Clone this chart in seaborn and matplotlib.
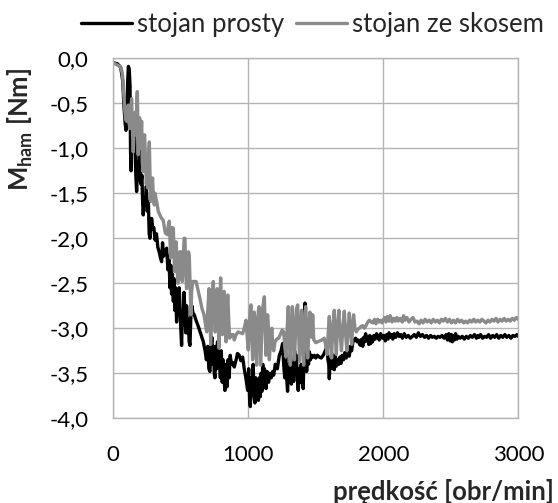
import numpy as np
import pandas as pd
import matplotlib
matplotlib.use("Agg")
import matplotlib.pyplot as plt
from matplotlib.ticker import FuncFormatter
from matplotlib.lines import Line2D
import seaborn as sns

# Braking torque vs. rotational speed: straight stator
rpm_prosty = [
    0, 30, 55, 70, 80, 88, 94, 100, 107, 112, 118, 124, 128, 132, 138, 145, 152, 160, 167, 173,
    180, 186, 192, 198, 205, 212, 218, 222, 230, 238, 245, 252, 260, 266, 272, 278, 285, 292, 300, 310,
    320, 330, 340, 350, 358, 365, 372, 395, 405, 412, 420, 426, 432, 438, 445, 450, 456, 462, 469, 475,
    481, 488, 494, 500, 506, 512, 518, 524, 531, 537, 543, 550, 556, 562, 568, 575, 582, 590, 600, 615,
    630, 645, 660, 667, 680, 690, 700, 708, 716, 722, 730, 736, 742, 748, 753, 760, 766, 772, 780, 786,
    793, 800, 807, 813, 820, 827, 835, 842, 850, 858, 866, 875, 885, 896, 910, 920, 933, 945, 958, 970,
    985, 995, 1003, 1010, 1015, 1022, 1030, 1036, 1042, 1049, 1055, 1062, 1068, 1075, 1082, 1089, 1095, 1101, 1107, 1113,
    1120, 1131, 1140, 1150, 1160, 1170, 1180, 1188, 1200, 1215, 1230, 1243, 1254, 1262, 1270, 1277, 1284, 1291, 1298, 1305,
    1312, 1319, 1326, 1336, 1343, 1350, 1356, 1363, 1370, 1377, 1385, 1392, 1400, 1407, 1413, 1420, 1426, 1432, 1440, 1446,
    1452, 1460, 1470, 1480, 1489, 1500, 1512, 1526, 1540, 1555, 1570, 1583, 1590, 1596, 1600, 1606, 1612, 1618, 1625, 1632,
    1637, 1645, 1652, 1660, 1670, 1678, 1687, 1695, 1705, 1715, 1725, 1735, 1748, 1756, 1765, 1775, 1785, 1795, 1805, 1815,
    1825, 1832, 1840, 1848, 1855, 1862, 1869, 1876, 1884, 1893, 1900, 1906, 1912, 1920, 1930, 1940, 1950, 1960, 1970, 1980,
    1993, 2005, 2015, 2025, 2035, 2042, 2050, 2060, 2070, 2080, 2092, 2105, 2118, 2130, 2142, 2155, 2170, 2185, 2200, 2215,
    2230, 2245, 2260, 2275, 2290, 2305, 2320, 2335, 2350, 2363, 2378, 2392, 2405, 2420, 2435, 2450, 2465, 2475, 2485, 2495,
    2505, 2511, 2518, 2526, 2535, 2545, 2555, 2570, 2585, 2600, 2615, 2630, 2645, 2660, 2675, 2690, 2700, 2709, 2720, 2735,
    2750, 2765, 2780, 2795, 2810, 2825, 2840, 2855, 2870, 2885, 2900, 2915, 2930, 2945, 2960, 2975, 2990, 3000,
]
m_prosty = [
    -0.05, -0.06, -0.10, -0.25, -0.55, -0.72, -0.80, -0.65, -0.25, -0.09, -0.12, -0.30, -1.05, -1.25, -0.75, -0.90, -0.68, -0.92, -1.30, -1.48,
    -1.20, -1.35, -0.95, -1.07, -1.40, -1.30, -1.62, -1.74, -1.55, -1.62, -1.42, -1.70, -1.60, -1.95, -2.00, -1.80, -1.78, -1.90, -1.88, -2.02,
    -1.95, -2.10, -2.15, -2.22, -2.26, -2.05, -2.20, -2.11, -2.35, -2.20, -2.55, -2.30, -2.62, -2.40, -2.70, -2.45, -2.80, -2.55, -2.93, -2.60,
    -2.85, -2.55, -2.75, -3.00, -3.19, -2.80, -2.95, -2.60, -2.85, -3.05, -2.75, -3.05, -2.90, -3.15, -3.19, -2.85, -2.75, -2.83, -2.85, -2.92,
    -2.98, -3.05, -3.12, -3.15, -3.25, -3.35, -3.20, -3.45, -3.48, -3.25, -3.10, -3.40, -3.20, -3.50, -3.55, -3.20, -3.45, -3.15, -3.40, -3.30,
    -3.55, -3.25, -3.60, -3.35, -3.55, -3.69, -3.40, -3.65, -3.35, -3.55, -3.30, -3.40, -3.38, -3.43, -3.35, -3.28, -3.30, -3.36, -3.32, -3.45,
    -3.58, -3.69, -3.45, -3.80, -3.87, -3.55, -3.62, -3.40, -3.75, -3.83, -3.55, -3.78, -3.60, -3.80, -3.55, -3.76, -3.50, -3.70, -3.40, -3.60,
    -3.45, -3.67, -3.48, -3.60, -3.50, -3.55, -3.48, -3.52, -3.40, -3.45, -3.30, -3.25, -3.17, -3.40, -3.55, -3.30, -3.55, -3.70, -3.40, -3.50,
    -3.30, -3.62, -3.40, -3.59, -3.25, -3.45, -3.30, -3.55, -3.69, -3.45, -3.60, -3.40, -3.60, -3.67, -3.20, -2.72, -3.20, -3.48, -3.30, -3.40,
    -3.26, -3.35, -3.30, -3.32, -3.30, -3.33, -3.30, -3.32, -3.33, -3.30, -3.25, -3.20, -3.35, -3.40, -3.56, -3.35, -3.40, -3.28, -3.45, -3.35,
    -3.46, -3.30, -3.42, -3.35, -3.40, -3.32, -3.39, -3.30, -3.35, -3.27, -3.33, -3.26, -3.31, -3.20, -3.25, -3.15, -3.13, -3.11, -3.15, -3.13,
    -3.18, -3.19, -3.12, -3.20, -3.10, -3.15, -3.06, -3.14, -3.10, -3.18, -3.08, -3.17, -3.10, -3.15, -3.08, -3.12, -3.06, -3.10, -3.13, -3.06,
    -3.11, -3.08, -3.14, -3.07, -3.12, -3.05, -3.10, -3.07, -3.12, -3.06, -3.10, -3.05, -3.09, -3.07, -3.11, -3.06, -3.10, -3.08, -3.11, -3.09,
    -3.07, -3.10, -3.05, -3.09, -3.07, -3.10, -3.08, -3.11, -3.08, -3.10, -3.09, -3.11, -3.09, -3.10, -3.08, -3.11, -3.07, -3.13, -3.06, -3.14,
    -3.07, -3.15, -3.08, -3.13, -3.06, -3.12, -3.09, -3.11, -3.09, -3.12, -3.09, -3.11, -3.08, -3.10, -3.07, -3.11, -3.08, -3.10, -3.07, -3.11,
    -3.09, -3.10, -3.07, -3.11, -3.08, -3.10, -3.07, -3.11, -3.08, -3.10, -3.07, -3.10, -3.08, -3.11, -3.08, -3.09, -3.07, -3.09,
]

# Braking torque vs. rotational speed: skewed stator
rpm_skos = [
    0, 25, 49, 60, 69, 78, 86, 92, 99, 105, 111, 117, 124, 130, 136, 142, 148, 155, 162, 168,
    174, 178, 182, 185, 190, 195, 200, 205, 210, 215, 220, 226, 232, 238, 245, 250, 254, 260, 267, 272,
    278, 284, 291, 297, 304, 310, 316, 325, 333, 345, 358, 370, 385, 400, 408, 415, 420, 425, 432, 438,
    445, 450, 455, 460, 466, 472, 478, 485, 492, 499, 505, 511, 518, 525, 531, 537, 543, 550, 557, 563,
    570, 575, 580, 587, 593, 603, 613, 628, 642, 657, 672, 682, 692, 700, 709, 716, 722, 728, 735, 741,
    748, 755, 760, 765, 770, 777, 783, 790, 795, 800, 808, 815, 821, 828, 835, 842, 848, 855, 862, 870,
    880, 889, 896, 910, 925, 940, 958, 970, 983, 992, 1000, 1008, 1014, 1020, 1026, 1032, 1038, 1044, 1050, 1056,
    1062, 1068, 1075, 1080, 1086, 1092, 1100, 1106, 1112, 1119, 1125, 1131, 1137, 1143, 1150, 1156, 1162, 1168, 1175, 1181,
    1188, 1198, 1210, 1225, 1240, 1251, 1262, 1270, 1279, 1288, 1296, 1302, 1311, 1318, 1326, 1333, 1342, 1350, 1357, 1366,
    1373, 1380, 1388, 1395, 1402, 1410, 1417, 1425, 1432, 1440, 1448, 1456, 1463, 1470, 1477, 1485, 1500, 1514, 1530, 1545,
    1563, 1575, 1585, 1592, 1600, 1608, 1617, 1625, 1637, 1645, 1652, 1660, 1671, 1680, 1690, 1700, 1711, 1720, 1730, 1740,
    1748, 1756, 1766, 1772, 1780, 1790, 1800, 1811, 1822, 1835, 1847, 1860, 1872, 1885, 1897, 1910, 1922, 1935, 1945, 1958,
    1968, 1980, 1990, 2000, 2010, 2020, 2030, 2042, 2052, 2065, 2078, 2090, 2100, 2110, 2125, 2140, 2150, 2162, 2175, 2190,
    2205, 2220, 2235, 2250, 2265, 2280, 2295, 2310, 2325, 2340, 2355, 2370, 2385, 2400, 2415, 2430, 2445, 2460, 2475, 2490,
    2505, 2520, 2535, 2550, 2565, 2580, 2595, 2610, 2625, 2640, 2655, 2670, 2685, 2700, 2715, 2730, 2745, 2760, 2775, 2790,
    2805, 2820, 2835, 2850, 2865, 2880, 2895, 2910, 2925, 2940, 2955, 2970, 2985, 3000,
]
m_skos = [
    -0.05, -0.07, -0.09, -0.12, -0.19, -0.40, -0.59, -0.68, -0.70, -0.62, -0.52, -0.72, -0.78, -0.55, -0.45, -0.80, -1.04, -0.75, -0.60, -0.85,
    -0.50, -0.37, -0.70, -1.07, -0.80, -0.66, -1.00, -0.93, -0.70, -1.15, -1.26, -0.95, -0.85, -1.10, -1.40, -1.25, -1.44, -1.15, -0.93, -1.30,
    -1.59, -1.45, -1.33, -1.55, -1.63, -1.50, -1.56, -1.62, -1.70, -1.74, -1.78, -1.80, -1.94, -1.96, -1.85, -1.81, -2.00, -2.22, -2.00, -1.88,
    -1.89, -2.20, -2.37, -2.10, -2.04, -2.30, -2.50, -2.30, -2.15, -2.15, -2.40, -2.48, -2.20, -2.00, -2.00, -2.40, -2.56, -2.30, -2.15, -2.19,
    -2.60, -2.85, -2.60, -2.48, -2.48, -2.48, -2.48, -2.58, -2.67, -2.78, -2.85, -2.95, -3.04, -2.80, -2.56, -2.90, -3.18, -2.90, -2.60, -2.48,
    -2.80, -3.04, -2.90, -2.60, -2.56, -2.90, -3.22, -2.80, -2.44, -2.70, -3.07, -2.85, -2.59, -2.85, -3.15, -2.80, -2.63, -2.90, -3.11, -3.08,
    -3.07, -3.07, -3.13, -3.07, -3.04, -3.05, -3.06, -3.00, -2.91, -3.10, -3.24, -3.00, -2.80, -2.74, -3.05, -3.35, -3.10, -2.82, -2.90, -3.20,
    -3.41, -3.05, -2.80, -2.76, -3.10, -3.41, -3.05, -2.78, -2.72, -2.65, -3.00, -3.30, -3.05, -2.85, -3.00, -3.35, -3.20, -3.05, -3.00, -3.20,
    -3.25, -3.15, -3.12, -3.11, -3.06, -3.02, -3.04, -3.20, -3.32, -3.00, -2.76, -3.05, -3.41, -3.05, -2.76, -3.00, -3.35, -3.05, -2.78, -2.74,
    -3.05, -3.37, -3.05, -2.80, -3.00, -3.41, -3.05, -2.76, -3.00, -3.33, -3.05, -2.82, -2.85, -3.10, -2.85, -3.13, -3.16, -3.15, -3.14, -3.13,
    -3.11, -3.20, -3.29, -3.05, -2.87, -3.10, -3.33, -3.00, -2.80, -3.10, -3.29, -3.00, -2.80, -3.05, -3.25, -3.00, -2.81, -3.05, -3.25, -3.00,
    -2.83, -3.00, -3.18, -3.00, -2.85, -3.00, -3.04, -3.01, -3.00, -2.98, -2.97, -3.00, -2.97, -2.93, -2.91, -2.93, -2.94, -2.90, -2.95, -2.90,
    -2.93, -2.91, -2.94, -2.91, -2.88, -2.93, -2.87, -2.92, -2.86, -2.93, -2.89, -2.92, -2.88, -2.92, -2.89, -2.93, -2.86, -2.91, -2.88, -2.93,
    -2.90, -2.88, -2.93, -2.92, -2.95, -2.91, -2.94, -2.90, -2.93, -2.91, -2.94, -2.90, -2.93, -2.91, -2.94, -2.90, -2.92, -2.89, -2.93, -2.90,
    -2.94, -2.91, -2.94, -2.90, -2.93, -2.91, -2.94, -2.92, -2.94, -2.91, -2.93, -2.90, -2.93, -2.91, -2.93, -2.90, -2.92, -2.94, -2.91, -2.93,
    -2.90, -2.92, -2.89, -2.93, -2.90, -2.92, -2.89, -2.92, -2.90, -2.92, -2.89, -2.91, -2.88, -2.90,
]

series_names = ["stojan prosty", "stojan ze skosem"]
series_colors = ["#000000", "#8a8a8a"]
y_ticks = [0.0, -0.5, -1.0, -1.5, -2.0, -2.5, -3.0, -3.5, -4.0]
x_ticks = [0, 1000, 2000, 3000]

df = pd.concat([
    pd.DataFrame({"rpm": rpm_prosty, "M": m_prosty, "seria": series_names[0]}),
    pd.DataFrame({"rpm": rpm_skos, "M": m_skos, "seria": series_names[1]}),
], ignore_index=True)

sns.set_style("white")
plt.rcParams["font.family"] = ["Lato", "DejaVu Sans"]
plt.rcParams["mathtext.fontset"] = "custom"
plt.rcParams["mathtext.rm"] = "Lato"
plt.rcParams["mathtext.bf"] = "Lato:bold"

grid_c = "#b4b4b4"
fig = plt.figure(figsize=(5.58, 5.03), dpi=100)
ax = fig.add_axes([0.2030, 0.1684, 0.7259, 0.7157])

sns.lineplot(data=df, x="rpm", y="M", hue="seria", hue_order=series_names,
             palette=series_colors, sort=False, estimator=None, units="seria",
             linewidth=2.4, legend=False, ax=ax)

ax.set_xlim(0, 3000)
ax.set_ylim(-4.0, 0.0)
ax.set_xticks(x_ticks)
ax.set_yticks(y_ticks)
ax.yaxis.set_major_formatter(FuncFormatter(
    lambda v, p: ("%.1f" % (0.0 if abs(v) < 1e-9 else v)).replace(".", ",")))
ax.xaxis.set_major_formatter(FuncFormatter(lambda v, p: "%d" % v))
ax.grid(True, color=grid_c, linewidth=1.0)
ax.set_axisbelow(True)
for s in ax.spines.values():
    s.set_color(grid_c)
    s.set_linewidth(1.0)
ax.tick_params(axis="both", which="major", length=5, width=1.0, color=grid_c,
               labelsize=16, labelcolor="#000000", direction="out")
ax.tick_params(axis="y", pad=13)
ax.tick_params(axis="x", pad=14)
ax.set_xlabel("")
ax.set_ylabel("")

fig.text(0.993, 0.022, "prędkość [obr/min]", ha="right", va="center",
         fontsize=18.5, fontweight="bold")
fig.text(0.036, 0.742, r"$\mathbf{M}_{\mathbf{ham}}$ [Nm]", rotation=90,
         ha="center", va="center", fontsize=18.5, fontweight="bold")

handles = [Line2D([0], [0], color=c, linewidth=2.4) for c in series_colors]
fig.legend(handles, series_names, loc="center", bbox_to_anchor=(0.56, 0.952),
           ncol=2, frameon=False, fontsize=18.5, handlelength=2.0,
           handletextpad=0.2, columnspacing=0.45, borderpad=0.0)

fig.savefig("out.png", dpi=100)
